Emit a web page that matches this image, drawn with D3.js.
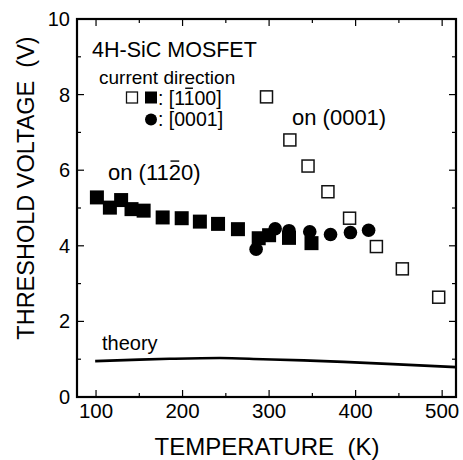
<!DOCTYPE html>
<html>
<head>
<meta charset="utf-8">
<script src="https://cdn.jsdelivr.net/npm/d3@7"></script>
<style>
  body { margin: 0; background: #fff; }
  svg { display: block; font-family: "Liberation Sans", Arial, Helvetica, sans-serif; }
</style>
</head>
<body>
<svg id="chart" width="463" height="460"></svg>
<script>
// [1-100] current direction on (11-20) face — filled squares
const sqTemp = [101, 116, 129, 141, 155, 177, 199, 220, 241, 264, 288, 300, 323, 349];
const sqVolt = [5.28, 5.01, 5.21, 4.97, 4.93, 4.75, 4.73, 4.64, 4.58, 4.44, 4.20, 4.28, 4.21, 4.07];

// [0001] current direction on (11-20) face — filled circles
const circTemp = [285, 307, 323, 347, 371, 394, 415];
const circVolt = [3.91, 4.45, 4.40, 4.37, 4.30, 4.35, 4.41];

// on (0001) face — open squares
const openTemp = [297, 324, 345, 368, 393, 424, 454, 496];
const openVolt = [7.94, 6.80, 6.11, 5.43, 4.73, 3.98, 3.39, 2.64];

// theory curve
const theoryTemp = [99, 150, 185, 243, 293, 340, 386, 443, 516];
const theoryVolt = [0.95, 0.99, 1.01, 1.03, 1.00, 0.97, 0.93, 0.87, 0.79];

const xTicks = [100, 200, 300, 400, 500];
const xMinor = [150, 250, 350, 450];
const yTicks = [0, 2, 4, 6, 8, 10];
const yMinor = [1, 3, 5, 7, 9];

const svg = d3.select('#chart');

const x = d3.scaleLinear().domain([78, 516]).range([77, 456]);
const y = d3.scaleLinear().domain([0, 10]).range([397, 19]);

const [x0, x1] = x.range();
const [y0, y1] = y.range();

// ticks on all four sides, pointing inward
const tickLines = (vals, len) => {
  vals.forEach(v => {
    svg.append('line').attr('x1', x(v)).attr('x2', x(v)).attr('y1', y0).attr('y2', y0 - len);
    svg.append('line').attr('x1', x(v)).attr('x2', x(v)).attr('y1', y1).attr('y2', y1 + len);
  });
};
const tickLinesY = (vals, len) => {
  vals.forEach(v => {
    svg.append('line').attr('x1', x0).attr('x2', x0 + len).attr('y1', y(v)).attr('y2', y(v));
    svg.append('line').attr('x1', x1).attr('x2', x1 - len).attr('y1', y(v)).attr('y2', y(v));
  });
};
tickLines(xTicks, 7);
tickLines(xMinor, 4);
tickLinesY(yTicks, 7);
tickLinesY(yMinor, 4);
svg.selectAll('line').attr('stroke', '#000').attr('stroke-width', 1.2);

// frame
svg.append('rect')
  .attr('x', x0).attr('y', y1)
  .attr('width', x1 - x0).attr('height', y0 - y1)
  .attr('fill', 'none').attr('stroke', '#000').attr('stroke-width', 2.2);

// tick labels
svg.append('g').selectAll('text').data(xTicks).join('text')
  .attr('x', d => x(d)).attr('y', 418)
  .attr('text-anchor', 'middle').attr('font-size', 20.5)
  .text(d => d);

svg.append('g').selectAll('text').data(yTicks).join('text')
  .attr('x', 70).attr('y', d => y(d) + 7)
  .attr('text-anchor', 'end').attr('font-size', 20)
  .text(d => d);

// axis titles
svg.append('text')
  .attr('x', 267).attr('y', 455)
  .attr('text-anchor', 'middle').attr('font-size', 24)
  .attr('xml:space', 'preserve')
  .text('TEMPERATURE  (K)');

svg.append('text')
  .attr('transform', `translate(34,188) rotate(-90)`)
  .attr('text-anchor', 'middle').attr('font-size', 23.5)
  .attr('xml:space', 'preserve')
  .text('THRESHOLD VOLTAGE  (V)');

// theory line
const line = d3.line().x((d, i) => x(theoryTemp[i])).y(d => y(d)).curve(d3.curveMonotoneX);
svg.append('path')
  .datum(theoryVolt)
  .attr('fill', 'none').attr('stroke', '#000').attr('stroke-width', 2.6)
  .attr('d', line);

// markers
const SQ = 14;
svg.append('g').selectAll('rect').data(sqVolt).join('rect')
  .attr('x', (d, i) => x(sqTemp[i]) - SQ / 2)
  .attr('y', d => y(d) - SQ / 2)
  .attr('width', SQ).attr('height', SQ)
  .attr('fill', '#000');

svg.append('g').selectAll('circle').data(circVolt).join('circle')
  .attr('cx', (d, i) => x(circTemp[i]))
  .attr('cy', d => y(d))
  .attr('r', 6.8)
  .attr('fill', '#000');

const OS = 12;
svg.append('g').selectAll('rect').data(openVolt).join('rect')
  .attr('x', (d, i) => x(openTemp[i]) - OS / 2)
  .attr('y', d => y(d) - OS / 2)
  .attr('width', OS).attr('height', OS)
  .attr('fill', '#fff').attr('stroke', '#111').attr('stroke-width', 1.5);

// draw a bar over one character of a text element
function overbar(textSel, idx) {
  const node = textSel.node();
  const s = node.getStartPositionOfChar(idx);
  const e = node.getEndPositionOfChar(idx);
  const fs = +textSel.attr('font-size');
  const yb = s.y - fs * 0.86;
  svg.append('line')
    .attr('x1', s.x + fs * 0.08).attr('x2', e.x - fs * 0.08)
    .attr('y1', yb).attr('y2', yb)
    .attr('stroke', '#000').attr('stroke-width', 1.4);
}

// annotations
svg.append('text').attr('x', 92).attr('y', 57).attr('font-size', 21.5).text('4H-SiC MOSFET');
svg.append('text').attr('x', 99).attr('y', 84).attr('font-size', 19).text('current direction');

svg.append('rect').attr('x', 126.5).attr('y', 92).attr('width', 11).attr('height', 11)
  .attr('fill', '#fff').attr('stroke', '#111').attr('stroke-width', 1.3);
svg.append('rect').attr('x', 145).attr('y', 91.5).attr('width', 12).attr('height', 12).attr('fill', '#000');
const lg1 = svg.append('text').attr('x', 158).attr('y', 105).attr('font-size', 19.5).text(': [1100]');
overbar(lg1, 4);

svg.append('circle').attr('cx', 151).attr('cy', 119.5).attr('r', 6).attr('fill', '#000');
svg.append('text').attr('x', 158).attr('y', 126).attr('font-size', 19.5).text(': [0001]');

const on1 = svg.append('text').attr('x', 108).attr('y', 180).attr('font-size', 22).text('on (1120)');
overbar(on1, 6);

svg.append('text').attr('x', 292).attr('y', 125).attr('font-size', 22).text('on (0001)');
svg.append('text').attr('x', 102).attr('y', 350).attr('font-size', 20).text('theory');
</script>
</body>
</html>
